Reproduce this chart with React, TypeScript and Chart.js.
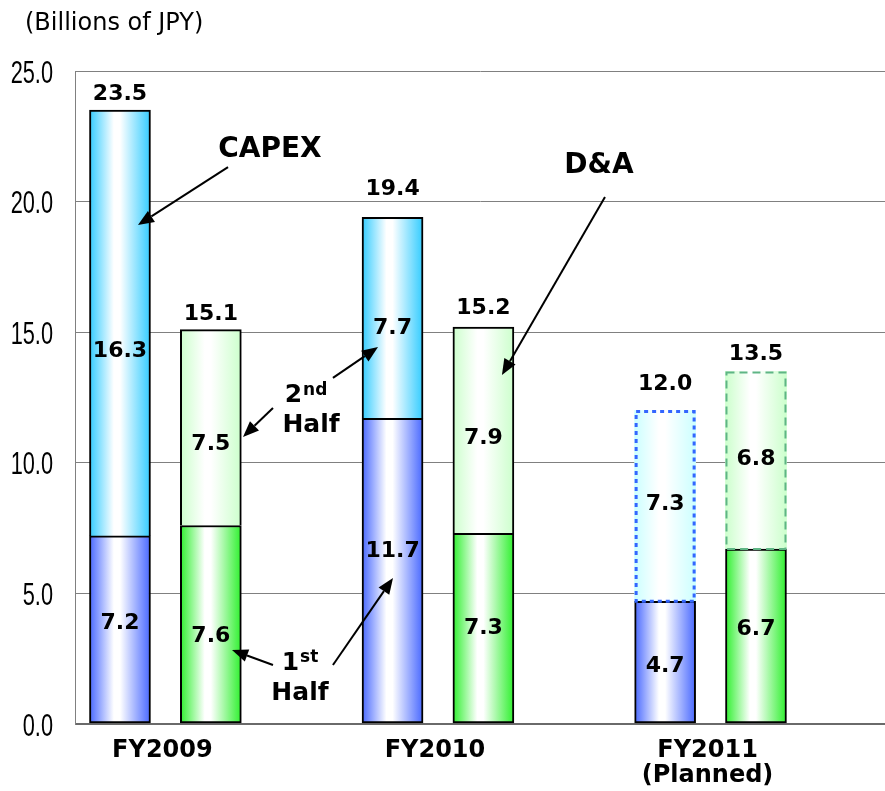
import React, { useEffect, useRef } from 'react';
import { Chart, registerables } from 'chart.js';

Chart.register(...registerables);

// ---------------- data ----------------
const categories = ['FY2009', 'FY2010', 'FY2011'];
const categorySubLabels = ['', '', '(Planned)'];
const capexFirstHalf = [7.2, 11.7, 4.7];
const capexSecondHalf = [16.3, 7.7, 7.3];
const capexTotal = [23.5, 19.4, 12.0];
const daFirstHalf = [7.6, 7.3, 6.7];
const daSecondHalf = [7.5, 7.9, 6.8];
const daTotal = [15.1, 15.2, 13.5];
const yTickValues = [0, 5, 10, 15, 20, 25];
const plannedIndex = 2;
const unitLabel = '(Billions of JPY)';

// ---------------- style / layout ----------------
const BAR_W = 61;
const X_MIN = -0.495;
const X_MAX = 8.42;
const slotOf = (group: number, series: number) => group * 3 + series;

const COL_CAPEX1 = '#4868ff';
const COL_CAPEX2 = '#33ccff';
const COL_CAPEX2_PLAN = '#ccffff';
const COL_DA1 = '#2ef02e';
const COL_DA2 = '#ccffcc';
const COL_DA2_PLAN = '#ccffcc';

// label nudges (px) relative to segment centers / bar tops
const capex1Nudge = [-8, -22, 2];
const capex2Nudge = [26, 8, -4];
const da1Nudge = [10, -2, -9];
const da2Nudge = [14, 6, -3];
const capexTotalNudge = [-18, -30, -29];
const daTotalNudge = [-18, -21, -19];

const VAL_FONT = 'bold 22px "DejaVu Sans", Verdana, sans-serif';

function barGradient(c: any, edge: string, planEdge?: string) {
  const chart = c.chart;
  const xs = chart.scales && chart.scales.x;
  if (c.type !== 'data' || !xs || !c.raw) return edge;
  const color = planEdge && c.dataIndex === plannedIndex ? planEdge : edge;
  const cx = xs.getPixelForValue(c.raw.x);
  if (!isFinite(cx)) return color;
  const g = chart.ctx.createLinearGradient(cx - BAR_W / 2, 0, cx + BAR_W / 2, 0);
  g.addColorStop(0, color);
  g.addColorStop(0.4, '#ffffff');
  g.addColorStop(0.5, '#ffffff');
  g.addColorStop(1, color);
  return g;
}

function makeDataset(label: string, values: number[], series: number, edge: string, firstHalf: boolean, planEdge?: string) {
  return {
    label,
    data: values.map((v, i) => ({ x: slotOf(i, series), y: v })),
    backgroundColor: (c: any) => barGradient(c, edge, planEdge),
    borderColor: '#000000',
    borderWidth: (c: any) => (!firstHalf && c.dataIndex === plannedIndex ? 0 : 2),
    borderSkipped: firstHalf ? false : 'start',
    barThickness: BAR_W,
    grouped: false,
  };
}

function drawArrow(ctx: CanvasRenderingContext2D, x1: number, y1: number, x2: number, y2: number) {
  const ang = Math.atan2(y2 - y1, x2 - x1);
  const L = 16;
  const W = 6.5;
  const bx = x2 - L * Math.cos(ang);
  const by = y2 - L * Math.sin(ang);
  ctx.beginPath();
  ctx.moveTo(x1, y1);
  ctx.lineTo(bx, by);
  ctx.lineWidth = 2;
  ctx.strokeStyle = '#000';
  ctx.stroke();
  ctx.beginPath();
  ctx.moveTo(x2, y2);
  ctx.lineTo(bx - W * Math.sin(ang), by + W * Math.cos(ang));
  ctx.lineTo(bx + W * Math.sin(ang), by - W * Math.cos(ang));
  ctx.closePath();
  ctx.fillStyle = '#000';
  ctx.fill();
}

const overlayPlugin = {
  id: 'overlay',
  afterDatasetsDraw(chart: any) {
    const ctx: CanvasRenderingContext2D = chart.ctx;
    const xs = chart.scales.x;
    const ys = chart.scales.y;
    const P = (sx: number, v: number) => [xs.getPixelForValue(sx), ys.getPixelForValue(v)];

    ctx.save();
    // planned (dashed / dotted) borders for FY2011 second-half segments
    const capexPlan = chart.getDatasetMeta(1).data[plannedIndex];
    const daPlan = chart.getDatasetMeta(3).data[plannedIndex];
    if (capexPlan) {
      const { x, y, base, width } = capexPlan.getProps(['x', 'y', 'base', 'width'], true);
      ctx.setLineDash([4, 4]);
      ctx.lineWidth = 3;
      ctx.strokeStyle = '#3366ff';
      ctx.strokeRect(x - width / 2 + 1.5, y + 1, width - 3, base - y - 1);
    }
    if (daPlan) {
      const { x, y, base, width } = daPlan.getProps(['x', 'y', 'base', 'width'], true);
      ctx.setLineDash([8, 5]);
      ctx.lineWidth = 2;
      ctx.strokeStyle = '#5fb585';
      ctx.strokeRect(x - width / 2 + 1, y + 1, width - 2, base - y - 1);
    }
    ctx.setLineDash([]);

    // value labels
    ctx.fillStyle = '#000';
    ctx.font = VAL_FONT;
    ctx.textAlign = 'center';
    ctx.textBaseline = 'alphabetic';
    const segs: [number, number[], number[]][] = [
      [0, capexFirstHalf, capex1Nudge],
      [1, capexSecondHalf, capex2Nudge],
      [2, daFirstHalf, da1Nudge],
      [3, daSecondHalf, da2Nudge],
    ];
    segs.forEach(([di, vals, nudge]) => {
      const meta = chart.getDatasetMeta(di);
      meta.data.forEach((el: any, i: number) => {
        const { x, y, base } = el.getProps(['x', 'y', 'base'], true);
        const cy = (y + base) / 2 + nudge[i];
        ctx.fillText(vals[i].toFixed(1), x, cy + 8);
      });
    });
    // totals
    const totals: [number, number[], number[]][] = [
      [1, capexTotal, capexTotalNudge],
      [3, daTotal, daTotalNudge],
    ];
    totals.forEach(([di, vals, nudge]) => {
      const meta = chart.getDatasetMeta(di);
      meta.data.forEach((el: any, i: number) => {
        const { x } = el.getProps(['x'], true);
        const ty = ys.getPixelForValue(vals[i]) + nudge[i];
        ctx.fillText(vals[i].toFixed(1), x, ty + 8);
      });
    });

    // annotations
    ctx.font = 'bold 28px "DejaVu Sans", Verdana, sans-serif';
    let p = P(1.651, 21.71);
    ctx.fillText('CAPEX', p[0], p[1]);
    let a = P(1.189, 21.32), b = P(0.198, 19.1);
    drawArrow(ctx, a[0], a[1], b[0], b[1]);

    p = P(5.272, 21.09);
    ctx.fillText('D&A', p[0], p[1]);
    a = P(5.338, 20.18); b = P(4.204, 13.36);
    drawArrow(ctx, a[0], a[1], b[0], b[1]);

    const drawSup = (base: string, sup: string, cx: number, by: number, supRaise: number) => {
      ctx.textAlign = 'left';
      ctx.font = 'bold 25px "DejaVu Sans", Verdana, sans-serif';
      const w1 = ctx.measureText(base).width;
      ctx.font = 'bold 17px "DejaVu Sans", Verdana, sans-serif';
      const w2 = ctx.measureText(sup).width;
      const sx = cx - (w1 + w2 + 1) / 2;
      ctx.font = 'bold 25px "DejaVu Sans", Verdana, sans-serif';
      ctx.fillText(base, sx, by);
      ctx.font = 'bold 17px "DejaVu Sans", Verdana, sans-serif';
      ctx.fillText(sup, sx + w1 + 1, by - supRaise);
      ctx.textAlign = 'center';
    };

    // 2nd Half
    p = P(2.047, 12.33);
    drawSup('2', 'nd', p[0], p[1], 7);
    ctx.font = 'bold 25px "DejaVu Sans", Verdana, sans-serif';
    p = P(2.103, 11.18);
    ctx.fillText('Half', p[0], p[1]);
    a = P(2.344, 13.25); b = P(2.84, 14.43);
    drawArrow(ctx, a[0], a[1], b[0], b[1]);
    a = P(1.684, 12.1); b = P(1.354, 10.99);
    drawArrow(ctx, a[0], a[1], b[0], b[1]);

    // 1st Half
    p = P(1.981, 2.07);
    drawSup('1', 'st', p[0], p[1], 8);
    ctx.font = 'bold 25px "DejaVu Sans", Verdana, sans-serif';
    p = P(1.981, 0.919);
    ctx.fillText('Half', p[0], p[1]);
    a = P(1.684, 2.259); b = P(1.233, 2.833);
    drawArrow(ctx, a[0], a[1], b[0], b[1]);
    a = P(2.344, 2.259); b = P(3.005, 5.59);
    drawArrow(ctx, a[0], a[1], b[0], b[1]);

    ctx.restore();
  },
  afterDraw(chart: any) {
    const ctx: CanvasRenderingContext2D = chart.ctx;
    const xs = chart.scales.x;
    const ys = chart.scales.y;
    const area = chart.chartArea;
    ctx.save();
    ctx.fillStyle = '#000';
    // y tick labels (condensed)
    ctx.font = '32px "Liberation Sans", Arial, sans-serif';
    ctx.textAlign = 'right';
    ctx.textBaseline = 'alphabetic';
    yTickValues.forEach((v) => {
      const py = ys.getPixelForValue(v);
      ctx.save();
      ctx.translate(area.left - 22, py + 11.5);
      ctx.scale(0.68, 1);
      ctx.fillText(v.toFixed(1), 0, 0);
      ctx.restore();
    });
    // unit label
    ctx.textAlign = 'left';
    ctx.font = '24px "DejaVu Sans", Verdana, sans-serif';
    ctx.fillText(unitLabel, 25, 30);
    // category labels
    ctx.textAlign = 'center';
    ctx.font = 'bold 24px "DejaVu Sans", Verdana, sans-serif';
    categories.forEach((c, g) => {
      const cx = (xs.getPixelForValue(slotOf(g, 0)) + xs.getPixelForValue(slotOf(g, 1))) / 2 - 3;
      ctx.fillText(c, cx, area.bottom + 33);
      if (categorySubLabels[g]) ctx.fillText(categorySubLabels[g], cx, area.bottom + 58);
    });
    ctx.restore();
  },
};

export default function App() {
  const ref = useRef<HTMLCanvasElement>(null);
  useEffect(() => {
    const canvas = ref.current;
    if (!canvas) return;
    const chart = new Chart(canvas, {
      type: 'bar',
      data: {
        datasets: [
          makeDataset('CAPEX 1st Half', capexFirstHalf, 0, COL_CAPEX1, true),
          makeDataset('CAPEX 2nd Half', capexSecondHalf, 0, COL_CAPEX2, false, COL_CAPEX2_PLAN),
          makeDataset('D&A 1st Half', daFirstHalf, 1, COL_DA1, true),
          makeDataset('D&A 2nd Half', daSecondHalf, 1, COL_DA2, false, COL_DA2_PLAN),
        ] as any,
      },
      options: {
        animation: false,
        responsive: false,
        devicePixelRatio: 1,
        layout: { padding: { top: 71, right: 0, bottom: 67, left: 0 } },
        plugins: { legend: { display: false }, tooltip: { enabled: false } },
        scales: {
          x: { type: 'linear', min: X_MIN, max: X_MAX, offset: false, stacked: true, display: false },
          y: {
            type: 'linear',
            min: 0,
            max: 25,
            stacked: true,
            ticks: { stepSize: 5, display: false },
            grid: {
              drawTicks: false,
              color: (c: any) => (c.tick && c.tick.value === 0 ? '#6a6a6a' : '#808080'),
              lineWidth: (c: any) => (c.tick && c.tick.value === 0 ? 2 : 1),
            },
            border: { display: true, color: '#808080', width: 1 },
            afterFit: (s: any) => {
              s.width = 75;
            },
          },
        },
      } as any,
      plugins: [overlayPlugin],
    });
    return () => chart.destroy();
  }, []);
  return (
    <div style={{ position: 'fixed', left: 0, top: 0, width: 885, height: 791, background: '#ffffff' }}>
      <canvas ref={ref} width={885} height={791} style={{ display: 'block', width: 885, height: 791 }} />
    </div>
  );
}
